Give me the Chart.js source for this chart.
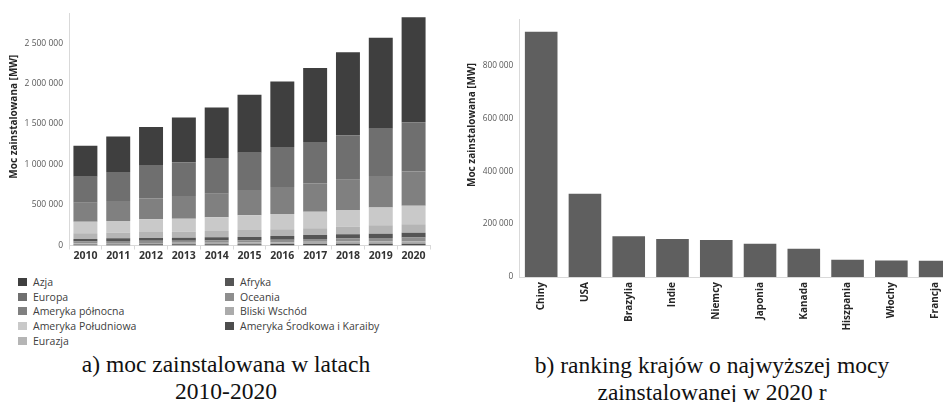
<!DOCTYPE html>
<html lang="pl">
<head>
<meta charset="utf-8">
<title>Moc zainstalowana</title>
<script src="https://cdn.jsdelivr.net/npm/chart.js@4.4.1/dist/chart.umd.min.js"></script>
<style>
  html, body { margin: 0; padding: 0; background: #fff; }
  body { width: 943px; height: 402px; overflow: hidden; position: relative; }
  #chartA { position: absolute; left: 0; top: 0; }
  #chartB { position: absolute; left: 460px; top: 0; }
  #legendA {
    position: absolute; left: 18px; top: 275px;
    display: grid; grid-auto-flow: column;
    grid-template-rows: repeat(5, 14.6px);
    grid-template-columns: 207px 220px;
    font-family: "Open Sans", sans-serif; font-size: 10.5px; color: #404040;
  }
  #legendA .item { display: flex; align-items: center; white-space: nowrap; }
  #legendA .box { width: 9px; height: 8px; margin-right: 6px; flex: none; }
  .caption {
    position: absolute; width: 440px; text-align: center;
    font-family: "Liberation Serif", "Times New Roman", serif;
    font-size: 23.5px; line-height: 26.6px; color: #111;
  }
  #capA { left: 6px; top: 351px; }
  #capB { left: 492px; top: 352px; }
</style>
</head>
<body>
<canvas id="chartA" width="431" height="268"></canvas>
<canvas id="chartB" width="497" height="335"></canvas>
<div id="legendA"></div>
<div class="caption" id="capA">a) moc zainstalowana w latach<br>2010-2020</div>
<div class="caption" id="capB">b) ranking krajów o najwyższej mocy<br>zainstalowanej w 2020 r</div>

<script>
// Installed capacity by region, MW
const years = ['2010', '2011', '2012', '2013', '2014', '2015', '2016', '2017', '2018', '2019', '2020'];
const azja              = [383000, 437000, 479000, 552000, 622000, 717000, 809000, 915000, 1027000, 1126000, 1295000];
const europa            = [322000, 359000, 400000, 417000, 442000, 458000, 495000, 511000, 548000, 581000, 610000];
const amerykaPolnocna   = [235000, 247000, 260000, 281000, 292000, 313000, 334000, 350000, 371000, 392000, 421000];
const amerykaPoludniowa = [143000, 145000, 157000, 161000, 169000, 182000, 189000, 205000, 207000, 218000, 230000];
const eurazja           = [70000, 69000, 74000, 74000, 78000, 87000, 83000, 83000, 94000, 104000, 104000];
const afryka            = [30000, 33000, 35000, 36000, 38000, 40000, 45000, 49000, 52000, 54000, 58000];
const oceania           = [22000, 25000, 26000, 27000, 28000, 29000, 32000, 36000, 39000, 42000, 48000];
const bliskiWschod      = [16000, 18000, 18000, 19000, 20000, 21000, 23000, 26000, 27000, 29000, 30000];
const amerykaSrodkowa   = [12000, 13000, 14000, 14000, 15000, 15000, 17000, 19000, 21000, 21000, 22000];
const ticksA = [0, 500000, 1000000, 1500000, 2000000, 2500000];

// Top countries in 2020, MW
const countries = ['Chiny', 'USA', 'Brazylia', 'Indie', 'Niemcy', 'Japonia', 'Kanada', 'Hiszpania', 'Włochy', 'Francja'];
const countryValues = [927000, 315000, 154000, 144000, 140000, 126000, 107000, 65000, 62000, 61000];
const ticksB = [0, 200000, 400000, 600000, 800000];

const axisTitle = 'Moc zainstalowana [MW]';
const fmt = v => String(v).replace(/\B(?=(\d{3})+(?!\d))/g, ' ');

// Rotated axis title drawn beside the axis
const sideTitle = {
  id: 'sideTitle',
  afterDraw(chart, args, opts) {
    const ctx = chart.ctx;
    ctx.save();
    ctx.translate(opts.x, opts.y);
    ctx.rotate(-Math.PI / 2);
    ctx.font = 'bold 10px "Open Sans", sans-serif';
    ctx.fillStyle = '#262626';
    ctx.textAlign = 'center';
    ctx.textBaseline = 'middle';
    ctx.fillText(opts.text, 0, 0);
    ctx.restore();
  }
};

const axisGrey = '#d9d9d9';

// Stack order: first dataset sits at the bottom
const seriesA = [
  { label: 'Ameryka Środkowa i Karaiby', data: amerykaSrodkowa, color: '#4d4d4d' },
  { label: 'Bliski Wschód', data: bliskiWschod, color: '#ababab' },
  { label: 'Oceania', data: oceania, color: '#8e8e8e' },
  { label: 'Afryka', data: afryka, color: '#555555' },
  { label: 'Eurazja', data: eurazja, color: '#b5b5b5' },
  { label: 'Ameryka Południowa', data: amerykaPoludniowa, color: '#c9c9c9' },
  { label: 'Ameryka północna', data: amerykaPolnocna, color: '#808080' },
  { label: 'Europa', data: europa, color: '#6f6f6f' },
  { label: 'Azja', data: azja, color: '#3f3f3f' }
];

const chartA = new Chart(document.getElementById('chartA'), {
  type: 'bar',
  data: {
    labels: years,
    datasets: seriesA.map(s => ({
      label: s.label, data: s.data, backgroundColor: s.color,
      borderWidth: 0, barPercentage: 0.73, categoryPercentage: 1
    }))
  },
  options: {
    responsive: false, animation: false, devicePixelRatio: 1,
    layout: { padding: { top: 13, right: 1, left: 0, bottom: 0 } },
    plugins: {
      legend: { display: false }, tooltip: { enabled: false },
      sideTitle: { text: axisTitle, x: 14, y: 116.7 }
    },
    scales: {
      x: {
        stacked: true,
        grid: { display: true, drawOnChartArea: false, drawTicks: true, tickLength: 4, color: axisGrey },
        border: { display: true, color: axisGrey },
        ticks: { padding: 0, color: '#333333', font: { family: 'Open Sans', size: 10.5, weight: 'bold' } },
        afterFit: s => { s.height = 22.5; }
      },
      y: {
        stacked: true, min: 0, max: 2872000,
        grid: { display: false, drawTicks: false },
        border: { display: true, color: axisGrey },
        ticks: { autoSkip: false, padding: 6, color: '#595959', font: { family: 'Open Sans', size: 8.5 }, callback: v => fmt(v) },
        afterBuildTicks: s => { s.ticks = ticksA.map(v => ({ value: v })); },
        afterFit: s => { s.width = 69; }
      }
    }
  },
  plugins: [sideTitle]
});

// Legend built from the datasets, top of the stack first, filled column by column
const legend = document.getElementById('legendA');
chartA.data.datasets.slice().reverse().forEach(ds => {
  const item = document.createElement('div');
  item.className = 'item';
  const box = document.createElement('span');
  box.className = 'box';
  box.style.background = ds.backgroundColor;
  item.appendChild(box);
  item.appendChild(document.createTextNode(ds.label));
  legend.appendChild(item);
});

new Chart(document.getElementById('chartB'), {
  type: 'bar',
  data: {
    labels: countries,
    datasets: [{
      data: countryValues, backgroundColor: '#5f5f5f', borderWidth: 0,
      barPercentage: 0.745, categoryPercentage: 1
    }]
  },
  options: {
    responsive: false, animation: false, devicePixelRatio: 1,
    layout: { padding: { top: 19.3, right: 0, left: 0, bottom: 0 } },
    plugins: {
      legend: { display: false }, tooltip: { enabled: false },
      sideTitle: { text: axisTitle, x: 12.5, y: 125 }
    },
    scales: {
      x: {
        grid: { display: false, drawTicks: false },
        border: { display: true, color: axisGrey },
        ticks: { autoSkip: false, minRotation: 90, maxRotation: 90, padding: 5, color: '#262626', font: { family: 'Open Sans', size: 10, weight: 'bold' } },
        afterFit: s => { s.height = 58; }
      },
      y: {
        min: 0, max: 974000,
        grid: { display: false, drawTicks: false },
        border: { display: true, color: axisGrey },
        ticks: { autoSkip: false, padding: 6, color: '#595959', font: { family: 'Open Sans', size: 8.3 }, callback: v => fmt(v) },
        afterBuildTicks: s => { s.ticks = ticksB.map(v => ({ value: v })); },
        afterFit: s => { s.width = 59.3; }
      }
    }
  },
  plugins: [sideTitle]
});
</script>
</body>
</html>
